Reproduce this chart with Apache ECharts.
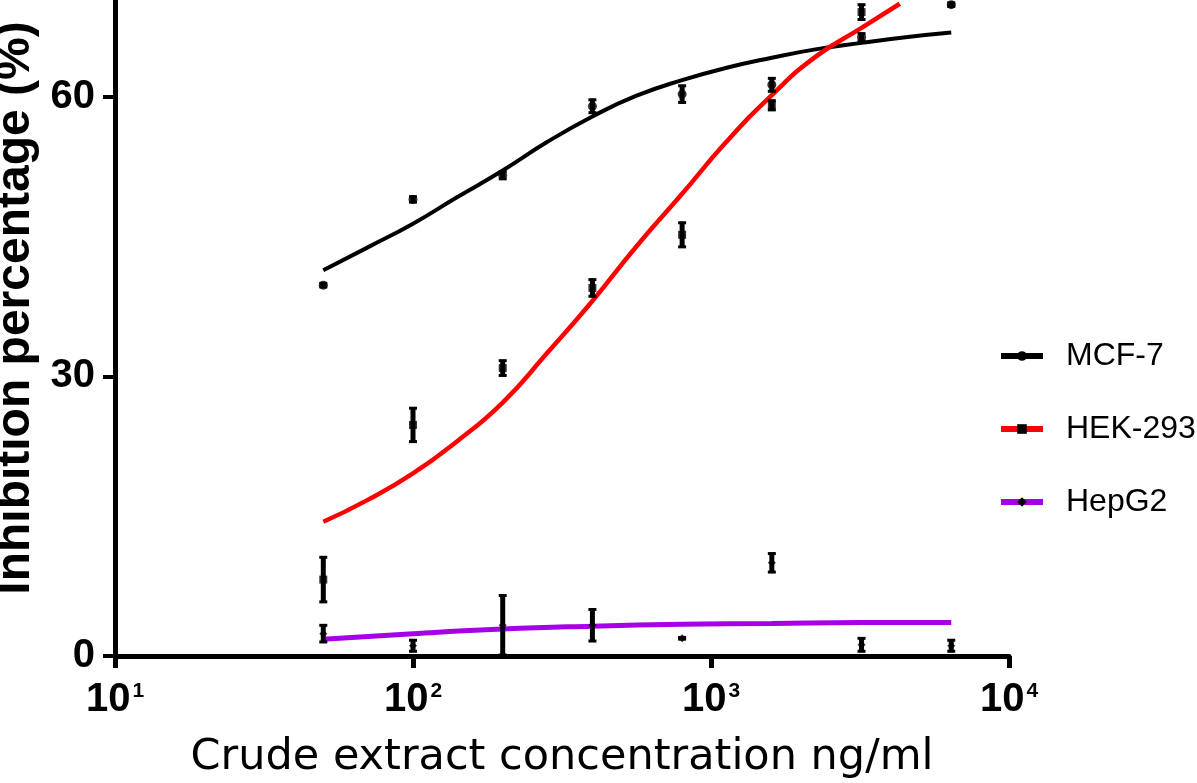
<!DOCTYPE html>
<html>
<head>
<meta charset="utf-8">
<script src="https://cdn.jsdelivr.net/npm/echarts@6/dist/echarts.min.js"></script>
<style>html,body{margin:0;padding:0;background:#fff;}#c{width:1197px;height:783px;}</style>
</head>
<body>
<div id="c"></div>
<script>
// ---- data ----
var seriesNames = ['MCF-7', 'HEK-293', 'HepG2'];
var concentrations = [50, 100, 200, 400, 800, 1600, 3200, 6400];
var mcf7Mean = [39.8, 49.0, 51.6, 59.0, 60.3, 61.3, 66.4, 69.9];
var mcf7Err  = [0.3, 0.4, 0.5, 0.8, 1.0, 0.8, 0.5, 0.3];
var hekMean  = [8.2, 24.8, 30.9, 39.5, 45.2, 59.1, 69.1, 73.0];
var hekErr   = [2.5, 1.9, 0.9, 1.0, 1.4, 0.6, 0.9, 0.8];
var hepMean  = [2.4, 1.1, 3.3, 3.3, 1.9, 10.0, 1.2, 1.1];
var hepErr   = [1.0, 0.7, 3.3, 1.8, 0.2, 1.1, 0.8, 0.7];

// fitted curves
var mcf7FitX = [50, 70, 100, 140, 200, 280, 400, 560, 800, 1120, 1600, 2240, 3200, 4500, 6400];
var mcf7FitY = [41.4, 43.8, 46.4, 49.2, 52.1, 55.1, 57.9, 60.1, 61.8, 63.1, 64.2, 65.1, 65.8, 66.4, 66.9];
var hekFitX  = [50, 70, 100, 140, 200, 280, 400, 560, 800, 1120, 1600, 2240, 3200, 4300];
var hekFitY  = [14.4, 16.7, 19.6, 23.0, 27.2, 32.4, 38.1, 43.9, 49.6, 55.1, 60.2, 64.3, 67.4, 70.0];
var hepFitX  = [50, 100, 200, 400, 800, 1600, 3200, 6400];
var hepFitY  = [1.8, 2.4, 2.9, 3.2, 3.4, 3.5, 3.6, 3.6];

var yTickValues = [0, 30, 60];

function pairs(xs, ys) { return xs.map(function (x, i) { return [x, ys[i]]; }); }
function errData(xs, m, e) { return xs.map(function (x, i) { return [x, m[i] - e[i], m[i] + e[i]]; }); }

function errRender(params, api) {
  var x = api.value(0), lo = api.value(1), hi = api.value(2);
  var p1 = api.coord([x, lo]), p2 = api.coord([x, hi]);
  var st = { stroke: '#000', lineWidth: 5 };
  var cst = { stroke: '#000', lineWidth: 3 };
  return {
    type: 'group',
    children: [
      { type: 'line', shape: { x1: p1[0], y1: p1[1], x2: p2[0], y2: p2[1] }, style: st },
      { type: 'line', shape: { x1: p1[0] - 4, y1: p1[1] - 1, x2: p1[0] + 4, y2: p1[1] - 1 }, style: cst },
      { type: 'line', shape: { x1: p2[0] - 4, y1: p2[1] + 1, x2: p2[0] + 4, y2: p2[1] + 1 }, style: cst }
    ]
  };
}

var chart = echarts.init(document.getElementById('c'), null, { renderer: 'canvas' });
var purple = '#a600e6';

var option = {
  backgroundColor: '#fff',
  animation: false,
  grid: { left: 115, right: 188, top: 0, bottom: 127, containLabel: false, outerBoundsMode: 'none' },
  legend: {
    orient: 'vertical',
    left: 993,
    top: 335,
    itemWidth: 42,
    itemHeight: 12,
    itemGap: 41,
    lineStyle: { width: 6 },
    textStyle: { fontFamily: 'Liberation Sans', fontSize: 32, color: '#000', padding: [0, 0, 0, 18], lineHeight: 32 },
    data: seriesNames
  },
  xAxis: {
    type: 'log',
    logBase: 10,
    min: 10,
    max: 10000,
    splitLine: { show: false },
    minorTick: { show: false },
    axisLine: { show: true, lineStyle: { color: '#000', width: 5 } },
    axisTick: { show: true, length: 12, lineStyle: { color: '#000', width: 5 } },
    axisLabel: {
      margin: 24,
      formatter: function (v) {
        var e = Math.round(Math.log(v) / Math.LN10);
        return '{b|10}{s|' + e + '}';
      },
      rich: {
        b: { fontFamily: 'Liberation Sans', fontWeight: 'bold', fontSize: 40, color: '#000', lineHeight: 40 },
        s: { fontFamily: 'Liberation Sans', fontWeight: 'bold', fontSize: 21, color: '#000', lineHeight: 40, padding: [0, 0, 17, 2] }
      }
    },
    name: 'Crude extract concentration ng/ml',
    nameLocation: 'middle',
    nameGap: 80,
    nameTextStyle: { fontFamily: 'DejaVu Sans', fontSize: 43, color: '#000' }
  },
  yAxis: {
    type: 'value',
    min: 0,
    max: 70.4,
    interval: 30,
    splitLine: { show: false },
    axisLine: { show: true, lineStyle: { color: '#000', width: 5 } },
    axisTick: { show: true, length: 12, lineStyle: { color: '#000', width: 4 }, customValues: yTickValues },
    axisLabel: {
      margin: 20,
      customValues: yTickValues,
      fontFamily: 'Liberation Sans', fontWeight: 'bold', fontSize: 40, color: '#000'
    },
    name: 'Inhibition percentage (%)',
    nameLocation: 'middle',
    nameGap: 66,
    nameRotate: 90,
    nameTextStyle: { fontFamily: 'Liberation Sans', fontWeight: 'bold', fontSize: 48, color: '#000', padding: [0, 0, 0, 40] }
  },
  series: [
    { name: 'MCF-7', type: 'line', smooth: 0.5, showSymbol: false, symbol: 'circle', z: 2,
      itemStyle: { color: '#000' }, lineStyle: { color: '#000', width: 4 }, data: pairs(mcf7FitX, mcf7FitY) },
    { name: 'HEK-293', type: 'line', smooth: 0.5, showSymbol: false, symbol: 'rect', z: 2,
      itemStyle: { color: '#000' }, lineStyle: { color: '#ff0000', width: 4.5 }, data: pairs(hekFitX, hekFitY) },
    { name: 'HepG2', type: 'line', smooth: 0.5, showSymbol: false, symbol: 'diamond', z: 2,
      itemStyle: { color: '#000' }, lineStyle: { color: purple, width: 5 }, data: pairs(hepFitX, hepFitY) },

    { name: 'MCF-7 err', type: 'custom', z: 3, renderItem: errRender, data: errData(concentrations, mcf7Mean, mcf7Err) },
    { name: 'HEK-293 err', type: 'custom', z: 3, renderItem: errRender, data: errData(concentrations, hekMean, hekErr) },
    { name: 'HepG2 err', type: 'custom', z: 3, renderItem: errRender, data: errData(concentrations, hepMean, hepErr) },

    { name: 'MCF-7 data', type: 'scatter', symbol: 'circle', symbolSize: 9, z: 4,
      itemStyle: { color: '#000' }, data: pairs(concentrations, mcf7Mean) },
    { name: 'HEK-293 data', type: 'scatter', symbol: 'rect', symbolSize: 8, z: 4,
      itemStyle: { color: '#000' }, data: pairs(concentrations, hekMean) },
    { name: 'HepG2 data', type: 'scatter', symbol: 'diamond', symbolSize: 8, z: 4,
      itemStyle: { color: '#000' }, data: pairs(concentrations, hepMean) }
  ]
};
chart.setOption(option);
</script>
</body>
</html>
